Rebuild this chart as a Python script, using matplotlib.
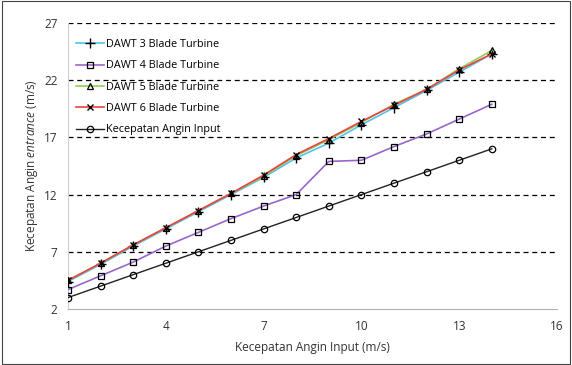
import matplotlib
matplotlib.use("Agg")
import matplotlib.pyplot as plt

plt.rcParams['font.family'] = ['Open Sans', 'DejaVu Sans']
plt.rcParams['mathtext.fontset'] = 'custom'
plt.rcParams['mathtext.rm'] = 'Open Sans'
plt.rcParams['mathtext.it'] = 'Open Sans:italic'

x = [1, 2, 3, 4, 5, 6, 7, 8, 9, 10, 11, 12, 13, 14]
blade3 = [4.4, 5.9, 7.5, 9.0, 10.5, 12.0, 13.5, 15.2, 16.5, 18.1, 19.6, 21.1, 22.7, 24.3]
blade4 = [3.7, 4.9, 6.1, 7.5, 8.7, 9.9, 11.0, 12.0, 14.9, 15.0, 16.2, 17.3, 18.6, 19.9]
blade5 = [4.5, 6.0, 7.6, 9.1, 10.6, 12.1, 13.6, 15.4, 16.8, 18.3, 19.9, 21.2, 23.0, 24.6]
blade6 = [4.5, 6.0, 7.6, 9.1, 10.6, 12.1, 13.7, 15.5, 16.9, 18.4, 19.8, 21.2, 22.9, 24.3]
angin_input = [3, 4, 5, 6, 7, 8, 9, 10, 11, 12, 13, 14, 15, 16]

xticks = [1, 4, 7, 10, 13, 16]
yticks = [2, 7, 12, 17, 22, 27]

fig = plt.figure(figsize=(5.72, 3.65), dpi=100)
ax = fig.add_axes([68/572, 1 - 309/365, (557-68)/572, (309-23)/365])

for yv in yticks[1:]:
    ax.axhline(yv, color='black', linestyle=(0, (4, 3)), linewidth=0.9, zorder=1)

ms = 4.6
ax.plot(x, blade3, color='#4fc3f0', linewidth=1.2, marker='+', markersize=6.5,
        markeredgecolor='black', markeredgewidth=1.0, label='DAWT 3 Blade Turbine', zorder=3)
ax.plot(x, blade4, color='#9966cc', linewidth=1.2, marker='s', markersize=ms,
        markerfacecolor='none', markeredgecolor='black', markeredgewidth=0.9,
        label='DAWT 4 Blade Turbine', zorder=3)
ax.plot(x, blade5, color='#92d050', linewidth=1.2, marker='^', markersize=ms + 0.4,
        markerfacecolor='none', markeredgecolor='black', markeredgewidth=0.9,
        label='DAWT 5 Blade Turbine', zorder=3)
ax.plot(x, blade6, color='#f04040', linewidth=1.2, marker='x', markersize=ms + 0.4,
        markeredgecolor='black', markeredgewidth=1.0, label='DAWT 6 Blade Turbine', zorder=3)
ax.plot(x, angin_input, color='#222222', linewidth=1.0, marker='o', markersize=ms,
        markerfacecolor='none', markeredgecolor='black', markeredgewidth=0.9,
        label='Kecepatan Angin Input', zorder=3)

ax.set_xlim(1, 16)
ax.set_ylim(2, 27)
ax.set_xticks(xticks)
ax.set_yticks(yticks)
ax.tick_params(length=0, labelsize=8.5, colors='#333333')
ax.tick_params(axis='x', pad=8)
ax.tick_params(axis='y', pad=7.5)
for s in ['top', 'right']:
    ax.spines[s].set_visible(False)
ax.spines['left'].set_color('#d0d0d0')
ax.spines['bottom'].set_color('#b0b0b0')

ax.set_xlabel('Kecepatan Angin Input (m/s)', fontsize=8.5, color='#333333', labelpad=6)
ax.set_ylabel(r'Kecepatan Angin $\mathit{entrance}$ (m/s)', fontsize=8.5, color='#333333')
ax.yaxis.set_label_coords(-0.057, 0.5)

leg = ax.legend(loc='upper left', bbox_to_anchor=(0.0, 0.97), frameon=False, fontsize=7.8,
                handlelength=2.6, handletextpad=0.2, labelspacing=0.95, borderaxespad=0.3)

fig.patches.append(plt.Rectangle((0.003, 0.003), 0.994, 0.994, transform=fig.transFigure,
                                 fill=False, edgecolor='#444444', linewidth=0.8))

fig.savefig('out.png', dpi=100)
